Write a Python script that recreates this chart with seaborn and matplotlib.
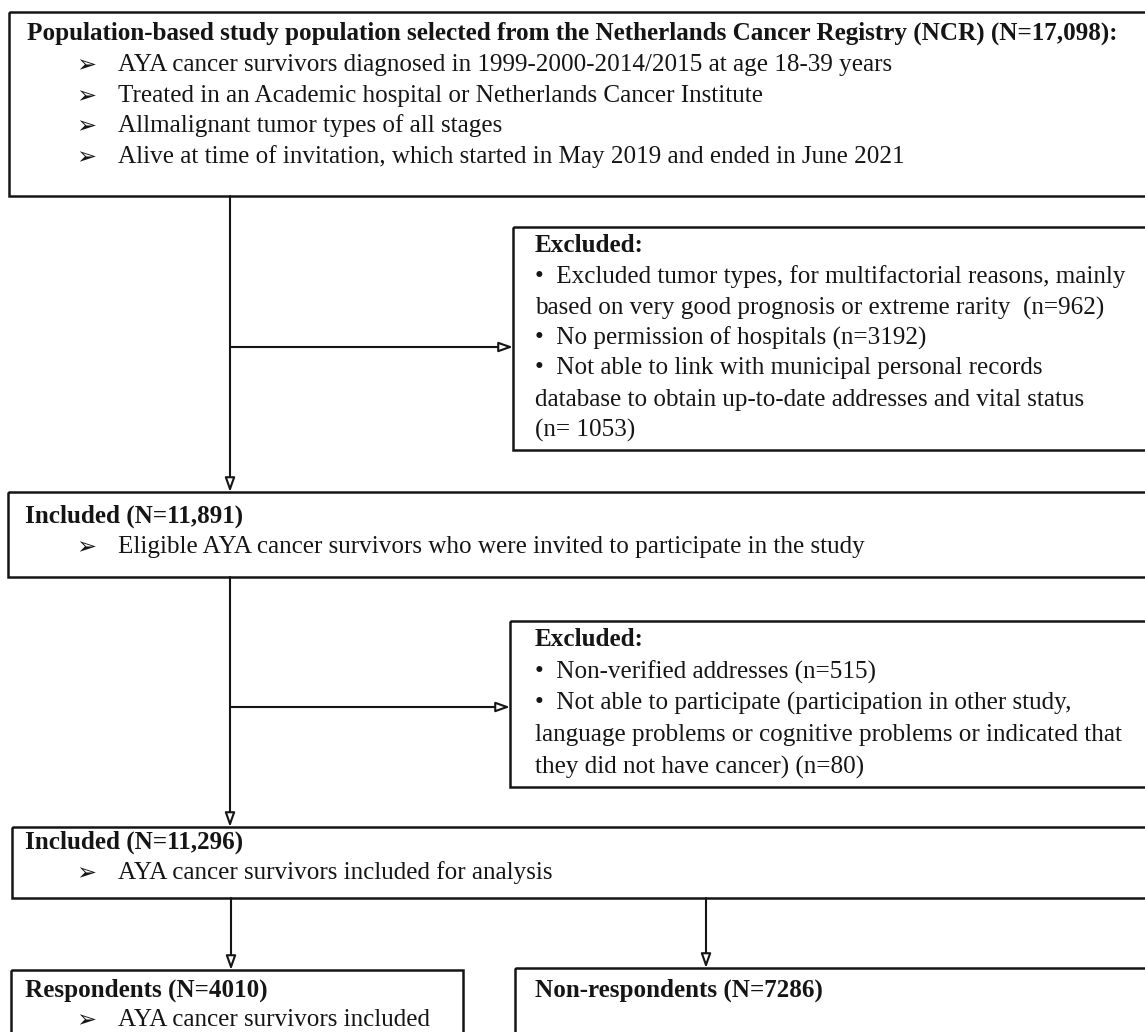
import matplotlib
matplotlib.use("Agg")
import matplotlib.pyplot as plt
import matplotlib.patches as patches
import seaborn as sns

# counts shown in the flow chart
n_registry = 17098
n_included = 11891
n_analysis = 11296
n_respondents = 4010
n_nonrespondents = 7286
excl_tumor, excl_hosp, excl_link = 962, 3192, 1053
excl_address, excl_unable = 515, 80

top_title = f"Population-based study population selected from the Netherlands Cancer Registry (NCR) (N={n_registry:,}):"
top_bullets = ["AYA cancer survivors diagnosed in 1999-2000-2014/2015 at age 18-39 years",
               "Treated in an Academic hospital or Netherlands Cancer Institute",
               "Allmalignant tumor types of all stages",
               "Alive at time of invitation, which started in May 2019 and ended in June 2021"]
excl1_lines = ["\u2022  Excluded tumor types, for multifactorial reasons, mainly",
               f"based on very good prognosis or extreme rarity  (n={excl_tumor})",
               f"\u2022  No permission of hospitals (n={excl_hosp})",
               "\u2022  Not able to link with municipal personal records",
               "database to obtain up-to-date addresses and vital status",
               f"(n= {excl_link})"]
excl2_lines = [f"\u2022  Non-verified addresses (n={excl_address})",
               "\u2022  Not able to participate (participation in other study,",
               "language problems or cognitive problems or indicated that",
               f"they did not have cancer) (n={excl_unable})"]
inc1_title = f"Included (N={n_included:,})"
inc1_bullet = "Eligible AYA cancer survivors who were invited to participate in the study"
inc2_title = f"Included (N={n_analysis:,})"
inc2_bullet = "AYA cancer survivors included for analysis"
resp_title = f"Respondents (N={n_respondents})"
resp_bullet = "AYA cancer survivors included"
nonresp_title = f"Non-respondents (N={n_nonrespondents})"

sns.set_style("white")
FAM = ["Liberation Serif", "DejaVu Sans"]
plt.rcParams["font.family"] = FAM
INK = "#151515"

fig = plt.figure(figsize=(11.45, 10.32), dpi=100)
ax = fig.add_axes([0, 0, 1, 1])
ax.set_xlim(0, 1145)
ax.set_ylim(1032, 0)
ax.axis("off")

# pick a font size so one reference line gets its width from the picture
probe = ax.text(0, 0, excl1_lines[0], fontsize=16)
fig.canvas.draw()
w = probe.get_window_extent(fig.canvas.get_renderer()).width
probe.remove()
FS = 16 * 592 / w


def box(x0, y0, x1, y1):
    ax.add_patch(patches.Rectangle((x0, y0), x1 - x0, y1 - y0, fill=False,
                                   lw=1.8, ec=INK))


def line(x, y, s, bold=False):
    ax.text(x, y, s, fontsize=FS, ha="left", va="center", color=INK,
            fontweight="bold" if bold else "normal", family=FAM)


def bullet(y, s):
    ax.text(76, y, "\u27a2", fontsize=FS * 0.95, ha="left", va="center",
            color=INK, family=["DejaVu Sans"])
    line(118, y, s)


def arrow(x0, y0, x1, y1):
    ax.annotate("", xy=(x1, y1), xytext=(x0, y0),
                arrowprops=dict(arrowstyle="-|>,head_length=0.7,head_width=0.25",
                                mutation_scale=12, fc="white", ec=INK, lw=1.5,
                                shrinkA=0, shrinkB=0))


# top box
box(9, 12, 1160, 196)
line(27, 33, top_title, bold=True)
for y, s in zip([65, 96, 126, 157], top_bullets):
    bullet(y, s)

# first exclusion
box(513, 227, 1160, 450)
line(535, 245, "Excluded:", bold=True)
for y, s in zip([277, 308, 338, 368, 400, 430], excl1_lines):
    line(535, y, s)

# first included box
box(8, 492, 1160, 577)
line(25, 516, inc1_title, bold=True)
bullet(547, inc1_bullet)

# second exclusion
box(510, 621, 1160, 787)
line(535, 640, "Excluded:", bold=True)
for y, s in zip([672, 703, 735, 767], excl2_lines):
    line(535, y, s)

# second included box
box(12, 827, 1160, 898)
line(25, 842, inc2_title, bold=True)
bullet(873, inc2_bullet)

# bottom boxes
box(11, 970, 463, 1060)
line(25, 990, resp_title, bold=True)
bullet(1020, resp_bullet)
box(515, 968, 1160, 1060)
line(535, 990, nonresp_title, bold=True)

# connectors
arrow(230, 196, 230, 492)
arrow(230, 347, 513, 347)
arrow(230, 577, 230, 827)
arrow(230, 707, 510, 707)
arrow(231, 898, 231, 970)
arrow(706, 898, 706, 968)

fig.savefig("out.png", dpi=100)
